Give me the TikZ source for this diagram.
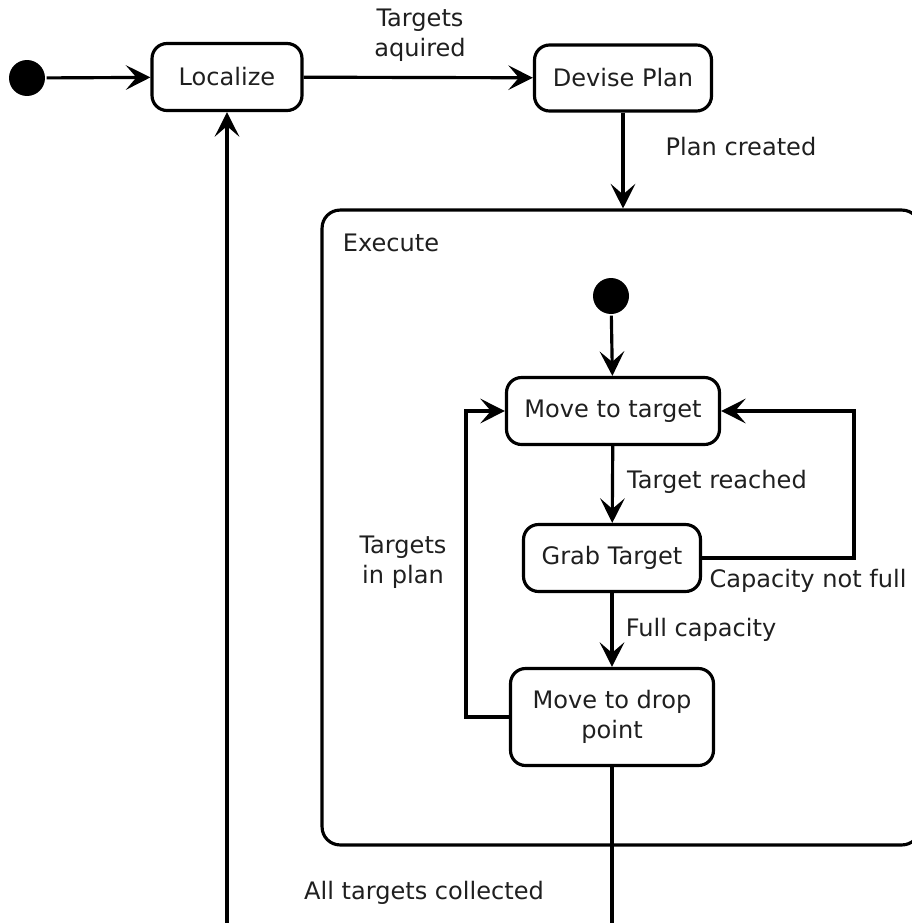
\documentclass[tikz,border=0pt]{standalone}
\usepackage{fontspec}
\setmainfont{DejaVu Sans}
\usetikzlibrary{arrows.meta}
\begin{document}
\begin{tikzpicture}[x=0.02cm,y=-0.02cm,line width=1.8pt,
  txt/.style={font=\fontsize{13.7}{17}\selectfont,text=black!88,align=center},
  state/.style={draw,rounded corners=0.3cm,txt,inner sep=0pt},
  init/.style={circle,fill,inner sep=0pt,minimum size=0.72cm},
  >={Stealth[length=14pt,width=14pt,inset=6pt]}]
\useasboundingbox (0,0) rectangle (912,923);
\clip (0,0) rectangle (912,923);
\node[init] (s0) at (27,78) {};
\node[state,minimum width=3cm,minimum height=1.34cm] (loc) at (227,77) {Localize};
\node[state,minimum width=3.54cm,minimum height=1.32cm] (plan) at (623,78) {Devise Plan};
\node[draw,rounded corners=0.36cm,minimum width=11.96cm,minimum height=12.7cm] (exec) at (621,527.5) {};
\node[txt] (execlbl) at (391,243) {Execute};
\node[init] (s1) at (611,296) {};
\node[state,minimum width=4.26cm,minimum height=1.34cm] (mt) at (613,411) {Move to target};
\node[state,minimum width=3.54cm,minimum height=1.34cm] (gt) at (612,558) {Grab Target};
\node[state,minimum width=4.06cm,minimum height=1.94cm] (dp) at (612,717) {Move to drop\\point};
\node[txt] (l1) at (420,35) {Targets\\aquired};
\node[txt] (l2) at (741,147) {Plan created};
\node[txt] (l3) at (717,482) {Target reached};
\node[txt] (l4) at (808,581) {Capacity not full};
\node[txt] (l5) at (701,630) {Full capacity};
\node[txt] (l6) at (403,562) {Targets\\in plan};
\node[txt] (l7) at (424,893) {All targets collected};
\draw[->] (s0) -- (loc);
\draw[->] (loc) -- (plan);
\draw[->] (plan) -- (plan |- exec.north);
\draw[->] (s1) -- (mt);
\draw[->] (mt) -- (gt);
\draw[->] (gt) -- (dp);
\draw[->] (gt.east) -- ++(152,0) |- (mt.east);
\draw[->] (dp.west) -- ++(-43,0) |- (mt.west);
\draw[->] (dp.south) -- ++(0,165) -| (loc.south);
\end{tikzpicture}
\end{document}
